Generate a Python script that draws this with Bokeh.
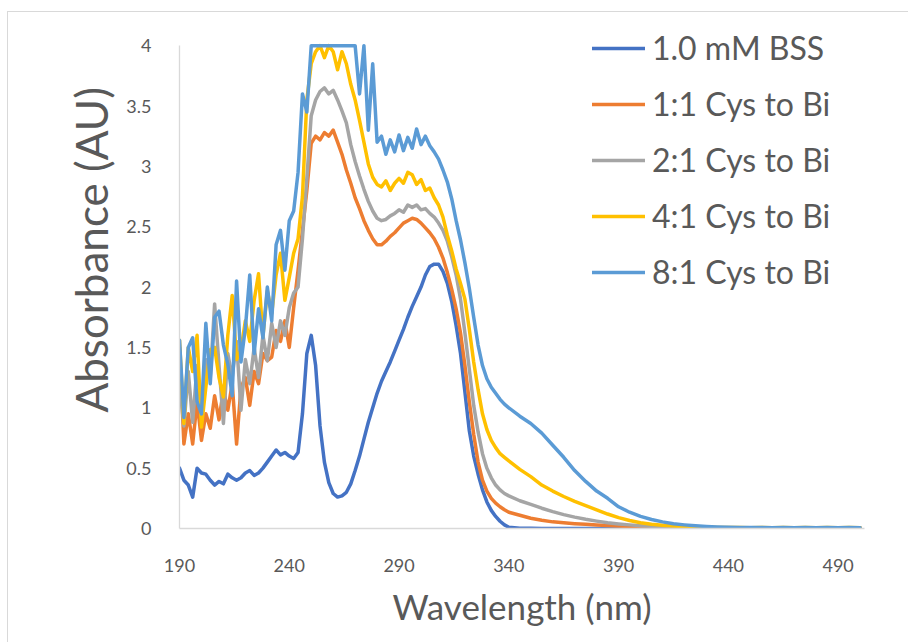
from bokeh.plotting import figure
from bokeh.models import FixedTicker, Legend, LegendItem, Range1d, Title
from bokeh.embed import file_html
from bokeh.resources import INLINE

# ---------------- data ----------------
wl_fine = list(range(190, 342, 2))   # 190 .. 340 nm, every 2 nm
wl_tail = list(range(345, 505, 5))   # 345 .. 500 nm, every 5 nm
wavelength = wl_fine + wl_tail

bss_fine = [0.50, 0.40, 0.36, 0.26, 0.50, 0.46, 0.45, 0.40, 0.36, 0.39,
            0.37, 0.45, 0.42, 0.40, 0.42, 0.46, 0.48, 0.44, 0.46, 0.50,
            0.55, 0.60, 0.65, 0.61, 0.63, 0.60, 0.58, 0.63, 0.95, 1.45,
            1.60, 1.35, 0.85, 0.55, 0.38, 0.29, 0.26, 0.27, 0.30, 0.37,
            0.48, 0.60, 0.74, 0.88, 1.00, 1.12, 1.22, 1.30, 1.38, 1.47,
            1.56, 1.65, 1.75, 1.84, 1.92, 2.00, 2.10, 2.17, 2.19, 2.19,
            2.13, 2.03, 1.88, 1.68, 1.45, 1.13, 0.81, 0.60, 0.45, 0.32,
            0.22, 0.15, 0.10, 0.06, 0.03, 0.01]
bss_tail = [0.003, 0.002, 0.001, 0.0, 0.0, 0.0, 0.0, 0.0, 0.0, 0.0,
            0.0, 0.0, 0.0, 0.0, 0.0, 0.0, 0.0, 0.0, 0.0, 0.0,
            0.0, 0.0, 0.0, 0.0, 0.0, 0.0, 0.0, 0.0, 0.0, 0.0,
            0.0, 0.0]

cys1_fine = [1.50, 0.70, 0.95, 0.70, 1.05, 0.73, 0.95, 0.83, 1.10, 0.90,
             1.15, 0.98, 1.20, 0.70, 1.17, 1.25, 1.02, 1.30, 1.20, 1.45,
             1.39, 1.42, 1.64, 1.55, 1.72, 1.50, 1.83, 2.14, 2.47, 2.80,
             3.19, 3.25, 3.22, 3.28, 3.25, 3.30, 3.20, 3.10, 2.97, 2.86,
             2.74, 2.65, 2.55, 2.47, 2.40, 2.35, 2.35, 2.38, 2.42, 2.45,
             2.49, 2.53, 2.55, 2.57, 2.56, 2.53, 2.49, 2.45, 2.40, 2.33,
             2.24, 2.12, 1.98, 1.82, 1.62, 1.35, 1.05, 0.78, 0.55, 0.40,
             0.31, 0.25, 0.21, 0.18, 0.155, 0.135]
cys1_tail = [0.11, 0.085, 0.068, 0.055, 0.047, 0.040, 0.035, 0.030, 0.025, 0.020,
             0.016, 0.013, 0.011, 0.009, 0.008, 0.007, 0.007, 0.006, 0.006, 0.006,
             0.006, 0.006, 0.005, 0.006, 0.005, 0.006, 0.005, 0.006, 0.005, 0.006,
             0.006, 0.005]

cys2_fine = [1.20, 0.85, 1.30, 0.88, 1.35, 0.95, 1.40, 1.25, 1.86, 1.35,
             0.87, 1.45, 1.25, 1.55, 0.98, 1.40, 1.20, 1.50, 1.25, 1.60,
             1.39, 1.70, 1.50, 1.72, 1.60, 1.83, 1.95, 2.00, 2.40, 2.90,
             3.42, 3.55, 3.62, 3.65, 3.60, 3.63, 3.55, 3.46, 3.36, 3.18,
             3.04, 2.92, 2.81, 2.71, 2.63, 2.57, 2.55, 2.56, 2.59, 2.61,
             2.64, 2.62, 2.68, 2.66, 2.68, 2.64, 2.65, 2.61, 2.58, 2.53,
             2.47, 2.38, 2.25, 2.10, 1.90, 1.62, 1.32, 1.02, 0.80, 0.62,
             0.50, 0.42, 0.36, 0.32, 0.29, 0.27]
cys2_tail = [0.23, 0.20, 0.168, 0.14, 0.115, 0.094, 0.076, 0.061, 0.048, 0.038,
             0.030, 0.023, 0.018, 0.014, 0.011, 0.009, 0.008, 0.007, 0.007, 0.006,
             0.006, 0.006, 0.006, 0.005, 0.006, 0.005, 0.006, 0.005, 0.006, 0.005,
             0.005, 0.006]

cys4_fine = [1.56, 0.87, 1.50, 1.30, 1.60, 0.84, 1.17, 1.48, 1.50, 1.25,
             1.09, 1.60, 1.93, 1.40, 1.48, 1.72, 1.55, 1.89, 2.11, 1.59,
             1.97, 1.78, 2.10, 2.28, 1.89, 2.08, 2.28, 2.40, 2.75, 3.55,
             3.85, 3.95, 4.00, 3.90, 4.00, 3.95, 3.80, 3.95, 3.85, 3.68,
             3.55, 3.38, 3.20, 3.02, 2.91, 2.85, 2.83, 2.88, 2.80, 2.86,
             2.90, 2.86, 2.95, 2.93, 2.85, 2.89, 2.80, 2.82, 2.74, 2.68,
             2.58, 2.43, 2.30, 2.15, 2.03, 1.90, 1.65, 1.38, 1.15, 0.95,
             0.82, 0.73, 0.67, 0.62, 0.59, 0.56]
cys4_tail = [0.49, 0.43, 0.36, 0.31, 0.265, 0.225, 0.19, 0.155, 0.12, 0.09,
             0.066, 0.048, 0.036, 0.027, 0.020, 0.015, 0.012, 0.010, 0.009, 0.008,
             0.008, 0.007, 0.008, 0.007, 0.008, 0.007, 0.008, 0.007, 0.008, 0.007,
             0.008, 0.007]

cys8_fine = [1.56, 0.92, 1.50, 1.58, 1.05, 0.95, 1.70, 1.20, 1.75, 1.80,
             1.52, 1.36, 1.10, 2.05, 1.38, 1.66, 2.10, 1.45, 1.82, 1.58,
             2.00, 1.72, 2.35, 2.47, 2.14, 2.55, 2.63, 2.95, 3.60, 3.45,
             4.00, 4.00, 4.00, 4.00, 4.00, 4.00, 4.00, 4.00, 4.00, 4.00,
             4.00, 3.60, 4.00, 3.30, 3.85, 3.20, 3.25, 3.10, 3.22, 3.12,
             3.26, 3.13, 3.24, 3.15, 3.31, 3.18, 3.25, 3.17, 3.12, 3.06,
             2.97, 2.87, 2.73, 2.55, 2.39, 2.20, 1.99, 1.75, 1.52, 1.35,
             1.24, 1.17, 1.12, 1.07, 1.03, 1.00]
cys8_tail = [0.93, 0.87, 0.79, 0.69, 0.59, 0.48, 0.39, 0.31, 0.25, 0.18,
             0.135, 0.10, 0.075, 0.055, 0.04, 0.03, 0.022, 0.016, 0.012, 0.010,
             0.009, 0.008, 0.008, 0.007, 0.008, 0.007, 0.008, 0.007, 0.008, 0.007,
             0.008, 0.007]

series_names = ["1.0 mM BSS", "1:1 Cys to Bi", "2:1 Cys to Bi",
                "4:1 Cys to Bi", "8:1 Cys to Bi"]
series_values = [bss_fine + bss_tail, cys1_fine + cys1_tail, cys2_fine + cys2_tail,
                 cys4_fine + cys4_tail, cys8_fine + cys8_tail]
series_colors = ["#4472C4", "#ED7D31", "#A5A5A5", "#FFC000", "#5B9BD5"]

x_ticks = [190, 240, 290, 340, 390, 440, 490]
y_ticks = [0, 0.5, 1, 1.5, 2, 2.5, 3, 3.5, 4]
y_tick_labels = ["0", "0.5", "1", "1.5", "2", "2.5", "3", "3.5", "4"]
x_title = "Wavelength (nm)"
y_title = "Absorbance (AU)"

FONT = "Lato"
GREY = "#595959"

# ---------------- figure ----------------
p = figure(width=901, height=631, output_backend="svg", toolbar_location=None,
           x_range=Range1d(190, 502), y_range=Range1d(0, 4.2),
           min_border_left=171, min_border_right=45,
           min_border_top=9, min_border_bottom=115)
p.styles = {"margin-left": "7px", "margin-top": "11px",
            "border-top": "1px solid #D9D9D9", "border-left": "1px solid #D9D9D9"}
p.background_fill_color = "white"
p.border_fill_color = "white"
p.outline_line_color = None
p.xgrid.visible = False
p.ygrid.visible = False

renderers = []
for name, vals, col in zip(series_names, series_values, series_colors):
    r = p.line(wavelength, vals, line_color=col, line_width=3.5,
               line_join="round", line_cap="round")
    renderers.append(r)

for ax in (p.xaxis[0], p.yaxis[0]):
    ax.axis_line_color = "#D9D9D9"
    ax.axis_line_width = 1.3
    ax.major_tick_line_color = None
    ax.minor_tick_line_color = None
    ax.major_label_text_font = FONT
    ax.major_label_text_font_size = "18px"
    ax.major_label_text_color = GREY
    ax.axis_label_text_font = FONT
    ax.axis_label_text_font_style = "normal"
    ax.axis_label_text_color = GREY

p.yaxis.bounds = (0, 4)
p.xaxis.axis_label_text_font_size = "35px"
p.xaxis.ticker = FixedTicker(ticks=x_ticks)
p.yaxis.ticker = FixedTicker(ticks=y_ticks)
p.yaxis.major_label_overrides = {t: lab for t, lab in zip(y_ticks, y_tick_labels)}
p.xaxis.axis_label = x_title
p.xaxis.major_label_standoff = 24
p.yaxis.major_label_standoff = 22
p.xaxis.axis_label_standoff = 10

# y title, set lower than the frame centre as in the original
ytitle = Title(text=y_title, align="left", offset=116, standoff=13,
               text_font=FONT, text_font_size="44px", text_font_style="normal",
               text_color=GREY)
p.add_layout(ytitle, "left")

legend = Legend(items=[LegendItem(label=n, renderers=[r]) for n, r in zip(series_names, renderers)],
                location=(413, 237))
legend.border_line_color = None
legend.background_fill_alpha = 0
legend.label_text_font = FONT
legend.label_text_font_size = "32px"
legend.label_text_color = GREY
legend.glyph_width = 53
legend.glyph_height = 36
legend.label_height = 36
legend.label_standoff = 7
legend.spacing = 17
legend.padding = 0
legend.margin = 0
p.add_layout(legend)

open("out.html", "w").write(file_html(p, INLINE))
